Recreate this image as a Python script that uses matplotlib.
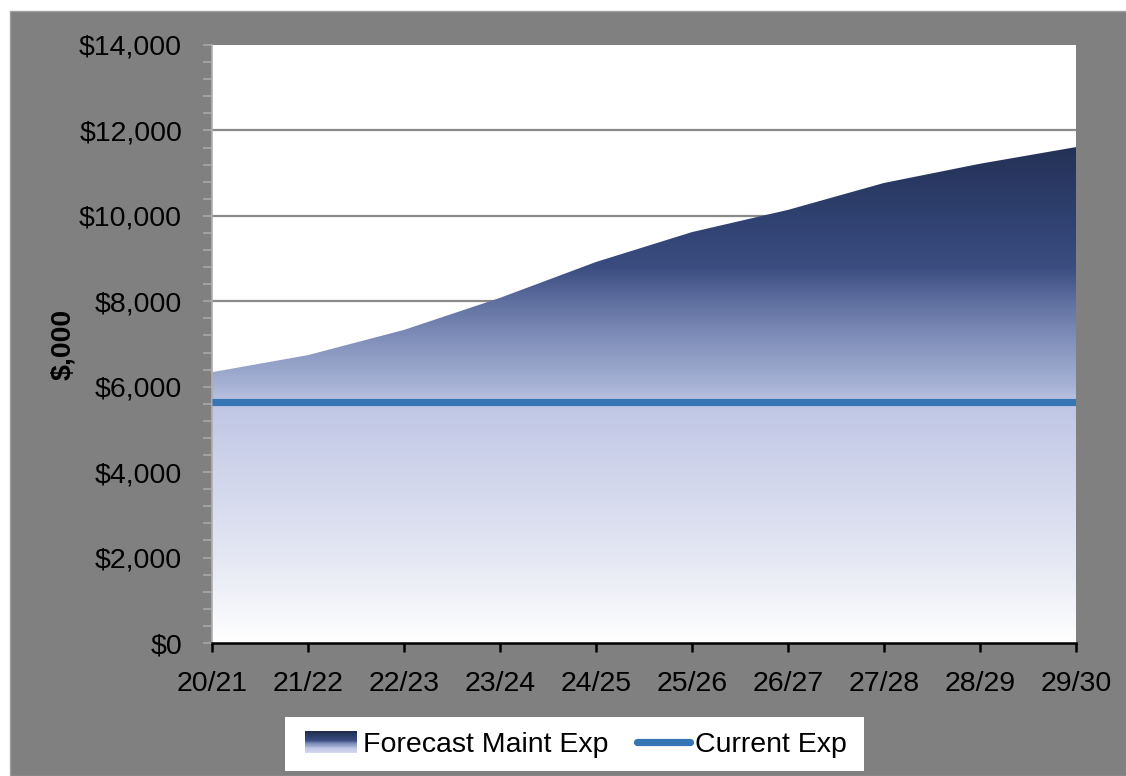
import matplotlib
matplotlib.use("Agg")
import matplotlib.pyplot as plt
import numpy as np
from matplotlib.colors import LinearSegmentedColormap, to_rgb
from matplotlib.patches import Rectangle, Polygon
from matplotlib.lines import Line2D
from matplotlib.legend_handler import HandlerBase
from matplotlib.ticker import MultipleLocator, FuncFormatter

plt.rcParams['font.family'] = ['Liberation Sans', 'DejaVu Sans']

# Data ($,000)
years = ["20/21", "21/22", "22/23", "23/24", "24/25", "25/26", "26/27", "27/28", "28/29", "29/30"]
forecast_maint = [6340, 6740, 7330, 8080, 8920, 9620, 10140, 10770, 11220, 11610]
current_exp = [5640] * len(years)

# Vertical colour ramp of the forecast area (value -> colour)
ramp_values = [0, 2000, 4500, 5600, 6000, 7000, 8000, 8800, 10000, 12000]
ramp_colors = ["#ffffff", "#e4e7f3", "#cbd0ea", "#bec6e4", "#a7b2d5",
               "#8594bd", "#5f6fa0", "#3b4c80", "#2f4170", "#222d50"]

BG = "#808080"
LINE_BLUE = "#3676b5"
FS = 20.5

ymax = 14000
cmap = LinearSegmentedColormap.from_list(
    "maint", [(v / ramp_values[-1], to_rgb(c)) for v, c in zip(ramp_values, ramp_colors)])

W, H = 1126, 776
fig = plt.figure(figsize=(W / 100, H / 100), dpi=100)
fig.patch.set_facecolor("white")
fig.add_artist(Rectangle((10 / W, 0), 1, 1 - 11 / H, transform=fig.transFigure,
                         facecolor=BG, edgecolor="#a0a0a0", linewidth=1, zorder=-10))

ax = fig.add_axes([212 / W, 1 - 643 / H, 864 / W, 598 / H])
ax.set_facecolor("white")

x = np.arange(len(years))

# gradient area clipped to the forecast polygon
grad = np.linspace(0, ramp_values[-1], 512).reshape(-1, 1)
img = ax.imshow(grad, cmap=cmap, vmin=0, vmax=ramp_values[-1], origin="lower",
                extent=[x[0], x[-1], 0, ramp_values[-1]], aspect="auto", zorder=2,
                interpolation="bilinear")
poly_xy = np.column_stack([np.concatenate([x, x[::-1]]),
                           np.concatenate([forecast_maint, np.zeros(len(x))])])
poly = Polygon(poly_xy, closed=True, facecolor="none", edgecolor="none", transform=ax.transData)
ax.add_patch(poly)
img.set_clip_path(poly)
ax.set_xlim(0, len(years) - 1)
ax.set_ylim(0, ymax)

ax.plot(x, current_exp, color=LINE_BLUE, linewidth=5.2, solid_capstyle="butt", zorder=4)

# gridlines
for yv in range(2000, ymax, 2000):
    ax.axhline(yv, color="#8a8a8a", linewidth=1.6, zorder=1)

# axes styling
for s in ["top", "right"]:
    ax.spines[s].set_visible(False)
ax.spines["left"].set_color("#b0b0b0")
ax.spines["left"].set_linewidth(1.2)
ax.spines["bottom"].set_color("black")
ax.spines["bottom"].set_linewidth(1.8)
ax.spines["bottom"].set_zorder(5)

ax.yaxis.set_major_locator(MultipleLocator(2000))
ax.yaxis.set_minor_locator(MultipleLocator(400))
ax.yaxis.set_major_formatter(FuncFormatter(lambda v, p: f"${v:,.0f}"))
ax.tick_params(axis="y", which="both", direction="out", length=6.5, width=1.2,
               color="#a8a8a8", labelsize=FS, pad=15)
ax.set_xticks(x)
ax.set_xticklabels(years)
ax.tick_params(axis="x", direction="out", length=6.5, width=1.8, color="black",
               labelsize=FS, pad=14)
for lab in ax.get_yticklabels() + ax.get_xticklabels():
    lab.set_color("black")

ax.set_ylabel("$,000", fontsize=FS, fontweight="bold", va="center")
ax.yaxis.set_label_coords(-0.172, 0.5)


class GradientHandler(HandlerBase):
    def create_artists(self, legend, orig_handle, xdescent, ydescent, width, height,
                       fontsize, trans):
        n = 24
        arts = []
        for i in range(n):
            frac = i / (n - 1)
            val = ramp_values[-1] * (0.3 + 0.7 * frac)
            r = Rectangle((-xdescent, -ydescent + height * i / n), width, height / n + 0.3,
                          facecolor=cmap(val / ramp_values[-1]), edgecolor="none",
                          transform=trans)
            arts.append(r)
        return arts


# legend box
fig.add_artist(Rectangle((285 / W, 1 - 771 / H), (864 - 285) / W, 54 / H,
                         transform=fig.transFigure, facecolor="white",
                         edgecolor="none", zorder=3))

area_handle = Rectangle((0, 0), 1, 1)
line_handle = Line2D([0], [0], color=LINE_BLUE, linewidth=5.2, solid_capstyle="round")
leg = fig.legend([area_handle, line_handle], ["Forecast Maint Exp", "Current Exp"],
                 handler_map={Rectangle: GradientHandler()},
                 loc="center", bbox_to_anchor=(576 / W, 1 - 745 / H),
                 ncol=2, fontsize=FS, frameon=False, handlelength=1.85,
                 handleheight=0.8, handletextpad=0.2, columnspacing=1.0,
                 borderpad=0, borderaxespad=0)
leg.set_zorder(4)

fig.savefig("out.png", dpi=100, facecolor=fig.get_facecolor())
